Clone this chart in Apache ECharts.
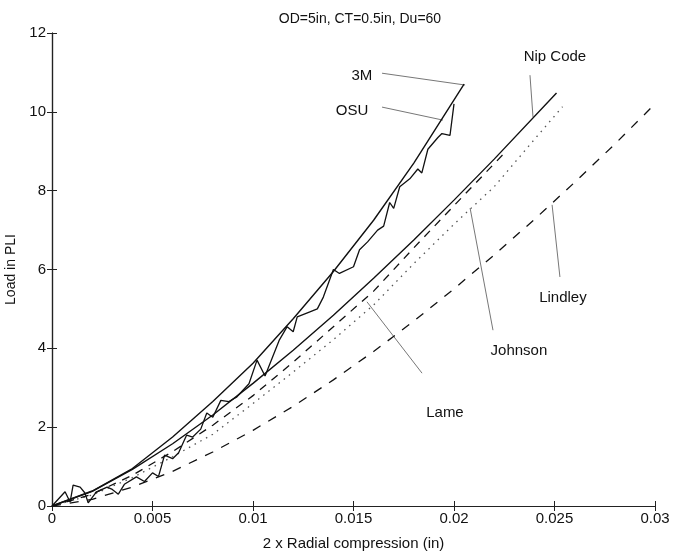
<!DOCTYPE html>
<html>
<head>
<meta charset="utf-8">
<script src="https://cdn.jsdelivr.net/npm/echarts@6/dist/echarts.min.js"></script>
<style>
  html, body { margin: 0; padding: 0; background: #fff; }
  #main { width: 683px; height: 560px; }
</style>
</head>
<body>
<div id="main"></div>
<script>
  // values, [compression (in), load (PLI)]
  var xTicks = [0, 0.005, 0.01, 0.015, 0.02, 0.025, 0.03];
  var yTicks = [0, 2, 4, 6, 8, 10, 12];

  var data3M = [[0,0],[0.002,0.38],[0.004,0.95],[0.006,1.75],[0.008,2.65],[0.010,3.62],
    [0.012,4.75],[0.014,5.95],[0.016,7.25],[0.018,8.7],[0.0205,10.7]];

  var dataOSU = [[0,0],[0.00065,0.36],[0.0009,0.1],[0.00105,0.53],[0.0014,0.48],[0.00164,0.33],
    [0.0018,0.08],[0.0022,0.35],[0.00274,0.48],[0.003,0.42],[0.0033,0.3],[0.0036,0.55],
    [0.0042,0.74],[0.0046,0.62],[0.005,0.84],[0.0053,0.75],[0.0056,1.29],[0.006,1.2],
    [0.0063,1.35],[0.0067,1.8],[0.007,1.75],[0.0074,1.95],[0.0077,2.36],[0.008,2.25],
    [0.0084,2.68],[0.0088,2.65],[0.0092,2.77],[0.0098,3.1],[0.0102,3.7],[0.0106,3.3],
    [0.0113,4.2],[0.0117,4.55],[0.012,4.42],[0.0122,4.8],[0.0128,4.92],[0.0132,5.0],
    [0.0135,5.3],[0.014,6.0],[0.0143,5.9],[0.015,6.07],[0.0153,6.5],[0.0157,6.7],
    [0.0162,7.0],[0.0165,7.1],[0.0168,7.7],[0.017,7.55],[0.0173,8.1],[0.0178,8.3],
    [0.0182,8.55],[0.0184,8.45],[0.0187,9.05],[0.0192,9.35],[0.0194,9.45],[0.0198,9.4],
    [0.02,10.2]];

  var dataNip = [[0,0],[0.002,0.37],[0.004,0.93],[0.006,1.58],[0.008,2.31],[0.010,3.11],
    [0.012,3.95],[0.014,4.84],[0.016,5.78],[0.018,6.75],[0.020,7.76],[0.022,8.8],[0.0251,10.48]];

  var dataLame = [[0,0],[0.002,0.3],[0.004,0.78],[0.006,1.38],[0.008,2.05],[0.010,2.8],
    [0.012,3.65],[0.014,4.55],[0.016,5.45],[0.018,6.55],[0.020,7.62],[0.0225,8.95]];

  var dataJohnson = [[0,0],[0.002,0.28],[0.004,0.72],[0.006,1.25],[0.008,1.82],[0.010,2.6],
    [0.012,3.4],[0.014,4.22],[0.016,5.1],[0.018,6.15],[0.020,7.15],[0.022,8.1],[0.024,9.3],[0.0254,10.13]];

  var dataLindley = [[0,0],[0.002,0.17],[0.004,0.48],[0.006,0.88],[0.008,1.37],[0.010,1.92],
    [0.012,2.53],[0.014,3.2],[0.016,3.92],[0.018,4.69],[0.020,5.51],[0.022,6.37],[0.024,7.27],
    [0.026,8.21],[0.028,9.18],[0.030,10.2]];

  // callouts: name, label position, leader line from, leader line to (data coords)
  var notes = [
    ['3M',       [0.01542, 10.91], [0.01642, 10.98], [0.02055, 10.68]],
    ['OSU',      [0.01493, 10.02], [0.01642, 10.12], [0.01945, 9.79]],
    ['Nip Code', [0.02502, 11.39], [0.02378, 10.93], [0.02393, 9.87]],
    ['Lindley',  [0.02542, 5.28],  [0.02527, 5.81],  [0.02488, 7.64]],
    ['Johnson',  [0.02323, 3.93],  [0.02194, 4.46],  [0.0208, 7.56]],
    ['Lame',     [0.01955, 2.36],  [0.01841, 3.37],  [0.01567, 5.18]]
  ];

  var font = 'Liberation Sans, Arial, sans-serif';
  var chart = echarts.init(document.getElementById('main'));

  function curve(name, data, type, width, color) {
    return {
      name: name, type: 'line', data: data, symbol: 'none', animation: false,
      lineStyle: { color: color || '#111', width: width, type: type }
    };
  }

  var tickLabel = { color: '#111', fontFamily: font, fontSize: 15 };

  chart.setOption({
    backgroundColor: '#fff',
    animation: false,
    title: {
      text: 'OD=5in, CT=0.5in, Du=60', left: 355, top: 7, textAlign: 'center',
      textStyle: { fontFamily: font, fontSize: 14, fontWeight: 'normal', color: '#111' }
    },
    grid: { left: 52, right: 28, top: 33, bottom: 54, outerBoundsMode: 'none', containLabel: false },
    xAxis: [{
      type: 'value', min: 0, max: 0.03, interval: 0.005,
      name: '2 x Radial compression (in)', nameLocation: 'middle', nameGap: 30,
      nameTextStyle: { fontFamily: font, fontSize: 15, color: '#111' },
      axisLine: { lineStyle: { color: '#222', width: 1.2 } },
      axisTick: { inside: true, length: 5, lineStyle: { color: '#222' } },
      axisLabel: Object.assign({ margin: 5, formatter: function (v) { return xTicks.indexOf(+v.toFixed(3)) >= 0 ? String(+v.toFixed(3)) : ''; } }, tickLabel),
      splitLine: { show: false }
    }, {
      type: 'value', position: 'top', min: 0, max: 0.03, interval: 0.005,
      axisLine: { show: true, lineStyle: { color: '#222', width: 1.2 } },
      axisTick: { inside: true, length: 5, lineStyle: { color: '#222' } },
      axisLabel: { show: false }, splitLine: { show: false }
    }],
    yAxis: [{
      type: 'value', min: 0, max: 12, interval: 2,
      name: 'Load in PLI', nameLocation: 'middle', nameGap: 31,
      nameTextStyle: { fontFamily: font, fontSize: 14, color: '#111' },
      axisLine: { show: true, lineStyle: { color: '#222', width: 1.2 } },
      axisTick: { show: true, inside: true, length: 5, lineStyle: { color: '#222' } },
      axisLabel: Object.assign({ margin: 6, formatter: function (v) { return yTicks.indexOf(v) >= 0 ? String(v) : ''; } }, tickLabel),
      splitLine: { show: false }
    }, {
      type: 'value', position: 'right', min: 0, max: 12, interval: 2,
      axisLine: { show: true, lineStyle: { color: '#222', width: 1.2 } },
      axisTick: { show: true, inside: true, length: 5, lineStyle: { color: '#222' } },
      axisLabel: { show: false }, splitLine: { show: false }
    }],
    series: [
      curve('Lindley', dataLindley, [9, 9], 1.3),
      curve('Johnson', dataJohnson, [1.5, 5], 1.3, '#555'),
      curve('Lame', dataLame, [8, 7], 1.3),
      curve('Nip Code', dataNip, 'solid', 1.4),
      curve('OSU', dataOSU, 'solid', 1.3),
      curve('3M', data3M, 'solid', 1.4)
    ]
  });

  // callout texts and leader lines, placed through the chart's own scale
  var gfx = [];
  notes.forEach(function (n) {
    var p = chart.convertToPixel({ gridIndex: 0 }, n[1]);
    var a = chart.convertToPixel({ gridIndex: 0 }, n[2]);
    var b = chart.convertToPixel({ gridIndex: 0 }, n[3]);
    gfx.push({
      type: 'line', silent: true,
      shape: { x1: a[0], y1: a[1], x2: b[0], y2: b[1] },
      style: { stroke: '#777', lineWidth: 1 }
    });
    gfx.push({
      type: 'text', silent: true, x: p[0], y: p[1],
      style: { text: n[0], fill: '#111', font: '15px ' + font, align: 'center', verticalAlign: 'middle' }
    });
  });
  chart.setOption({ graphic: gfx });
</script>
</body>
</html>
